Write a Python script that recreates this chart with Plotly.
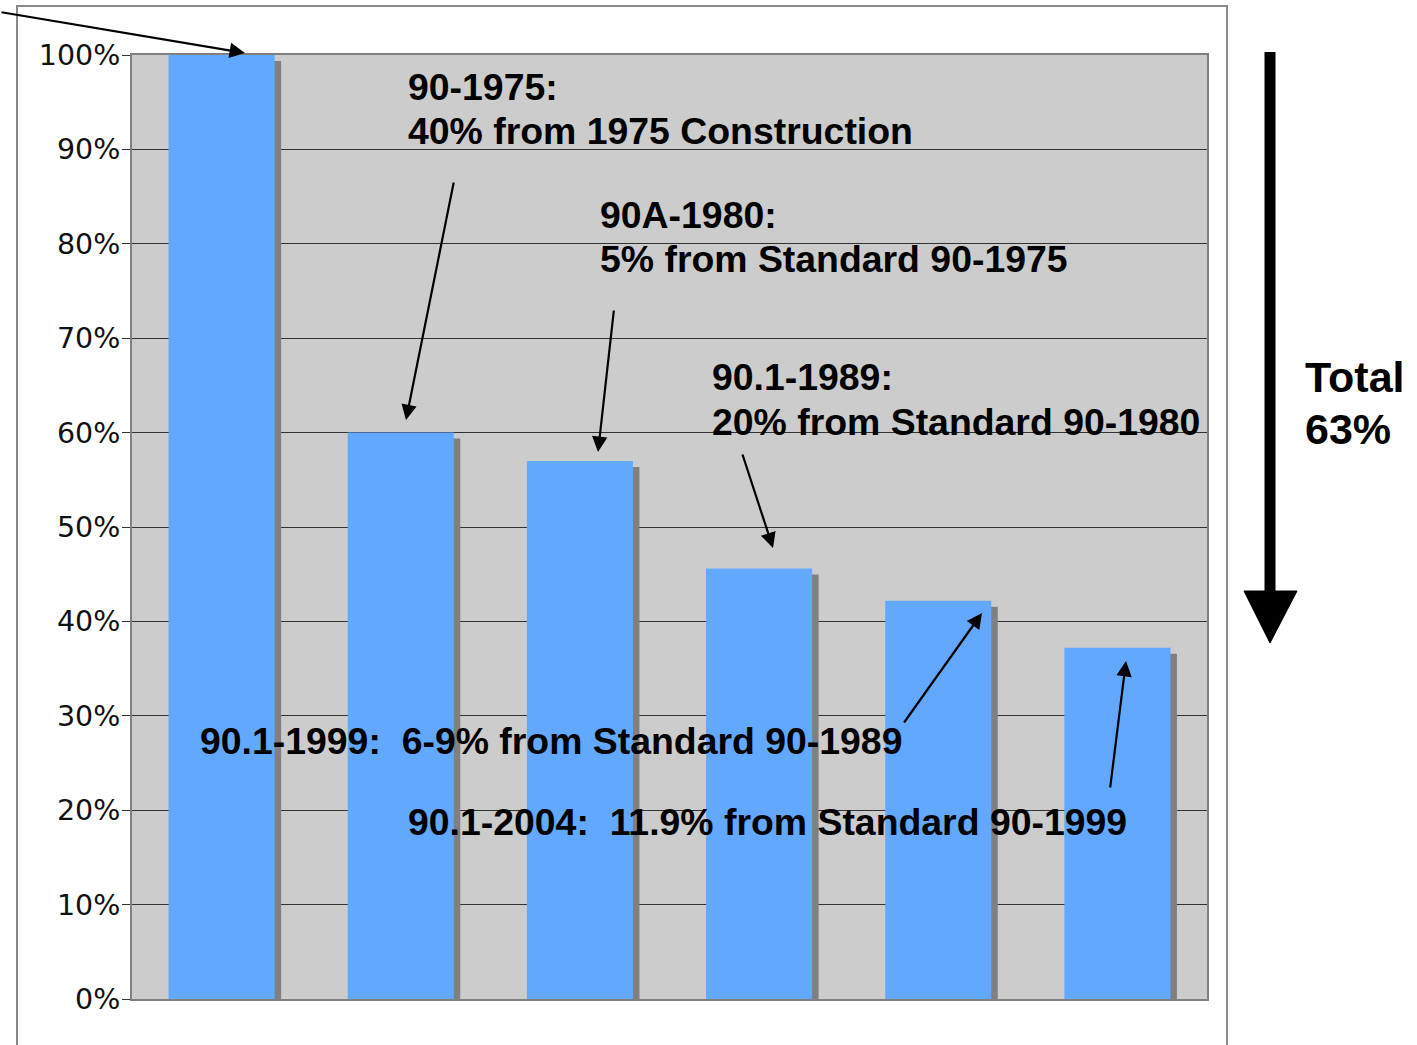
import plotly.graph_objects as go

# ---- data ----
categories = ["1975 Construction", "90-1975", "90A-1980", "90.1-1989", "90.1-1999", "90.1-2004"]
energy_use = [1.00, 0.60, 0.57, 0.456, 0.422, 0.372]

W, H = 1417, 1045
L, R, T, B = 132, 210, 55, 46
PW, PH = W - L - R, H - T - B


def X(px):
    return (px - L) / PW


def Y(py):
    return (H - B - py) / PH


bar_w = 0.592
shadow_dx = 6.5 / (PW / len(categories))
shadow_dy = 6 / PH

fig = go.Figure()
fig.add_trace(go.Bar(
    x=categories, y=[v - shadow_dy for v in energy_use], base=0,
    width=bar_w, offset=-bar_w / 2 + shadow_dx,
    marker=dict(color="#808080", line=dict(width=0)), hoverinfo="skip",
))
fig.add_trace(go.Bar(
    x=categories, y=energy_use,
    width=bar_w, offset=-bar_w / 2,
    marker=dict(color="#62A8FF", line=dict(width=0)),
))

font_b = "Liberation Sans, Arial, sans-serif"
anns = []

def text(px, py, s, size=37.4):
    anns.append(dict(xref="paper", yref="paper", x=X(px), y=Y(py), text=s,
                     showarrow=False, xanchor="left", yanchor="middle",
                     borderpad=0, font=dict(family=font_b, size=size, color="black", weight="bold")))

def arrow(tx, ty, hx, hy):
    anns.append(dict(xref="paper", yref="paper", x=X(hx), y=Y(hy), ax=tx - hx, ay=ty - hy,
                     axref="pixel", ayref="pixel", text="", showarrow=True,
                     arrowhead=2, arrowsize=1.4, arrowwidth=2.2, arrowcolor="black",
                     standoff=0, startstandoff=0))

text(407, 87, "90-1975:")
text(407, 131, "40% from 1975 Construction")
text(599, 215, "90A-1980:")
text(599, 259, "5% from Standard 90-1975")
text(711, 377, "90.1-1989:")
text(711, 422, "20% from Standard 90-1980")
text(199, 741, "90.1-1999:\u00a0 6-9% from Standard 90-1989")
text(407, 822, "90.1-2004:\u00a0 11.9% from Standard 90-1999")
text(1304, 377, "Total", size=43)
text(1304, 429, "63%", size=43)

arrow(0, 12, 245, 53)
arrow(454, 181, 406, 420)
arrow(614, 309, 598, 452)
arrow(742, 453, 773, 548)
arrow(903, 724, 982, 613)
arrow(1110, 789, 1126, 661)

shapes = [
    # outer frame
    dict(type="path", xref="paper", yref="paper",
         path=f"M {X(17)},{Y(1060)} L {X(17)},{Y(6)} L {X(1227)},{Y(6)} L {X(1227)},{Y(1060)}",
         line=dict(color="#8a8a8a", width=2)),
    # big downward arrow
    dict(type="line", xref="paper", yref="paper", x0=X(1270), x1=X(1270), y0=Y(52), y1=Y(596),
         line=dict(color="black", width=11)),
    dict(type="path", xref="paper", yref="paper",
         path=f"M {X(1244)},{Y(591)} L {X(1297)},{Y(591)} L {X(1270)},{Y(643)} Z",
         fillcolor="black", line=dict(color="black", width=1)),
]

fig.update_layout(
    width=W, height=H,
    margin=dict(l=L, r=R, t=T, b=B),
    paper_bgcolor="white", plot_bgcolor="#CCCCCC",
    barmode="overlay", showlegend=False,
    annotations=anns, shapes=shapes,
)
fig.update_xaxes(showticklabels=False, ticks="", showgrid=False,
                 showline=True, mirror=True, linecolor="#808080", linewidth=2,
                 layer="below traces", range=[-0.5, len(categories) - 0.5])
fig.update_yaxes(range=[0, 1], dtick=0.1, tickformat=".0%",
                 showgrid=True, gridcolor="#333333", gridwidth=1,
                 ticks="outside", ticklen=8, tickcolor="#333333", tickwidth=1,
                 showline=True, mirror=True, linecolor="#808080", linewidth=2,
                 layer="below traces", zeroline=False, ticklabelstandoff=-4,
                 tickfont=dict(family="DejaVu Sans, Verdana, sans-serif", size=28.5, color="#111111"))

fig.write_html("out.html")
